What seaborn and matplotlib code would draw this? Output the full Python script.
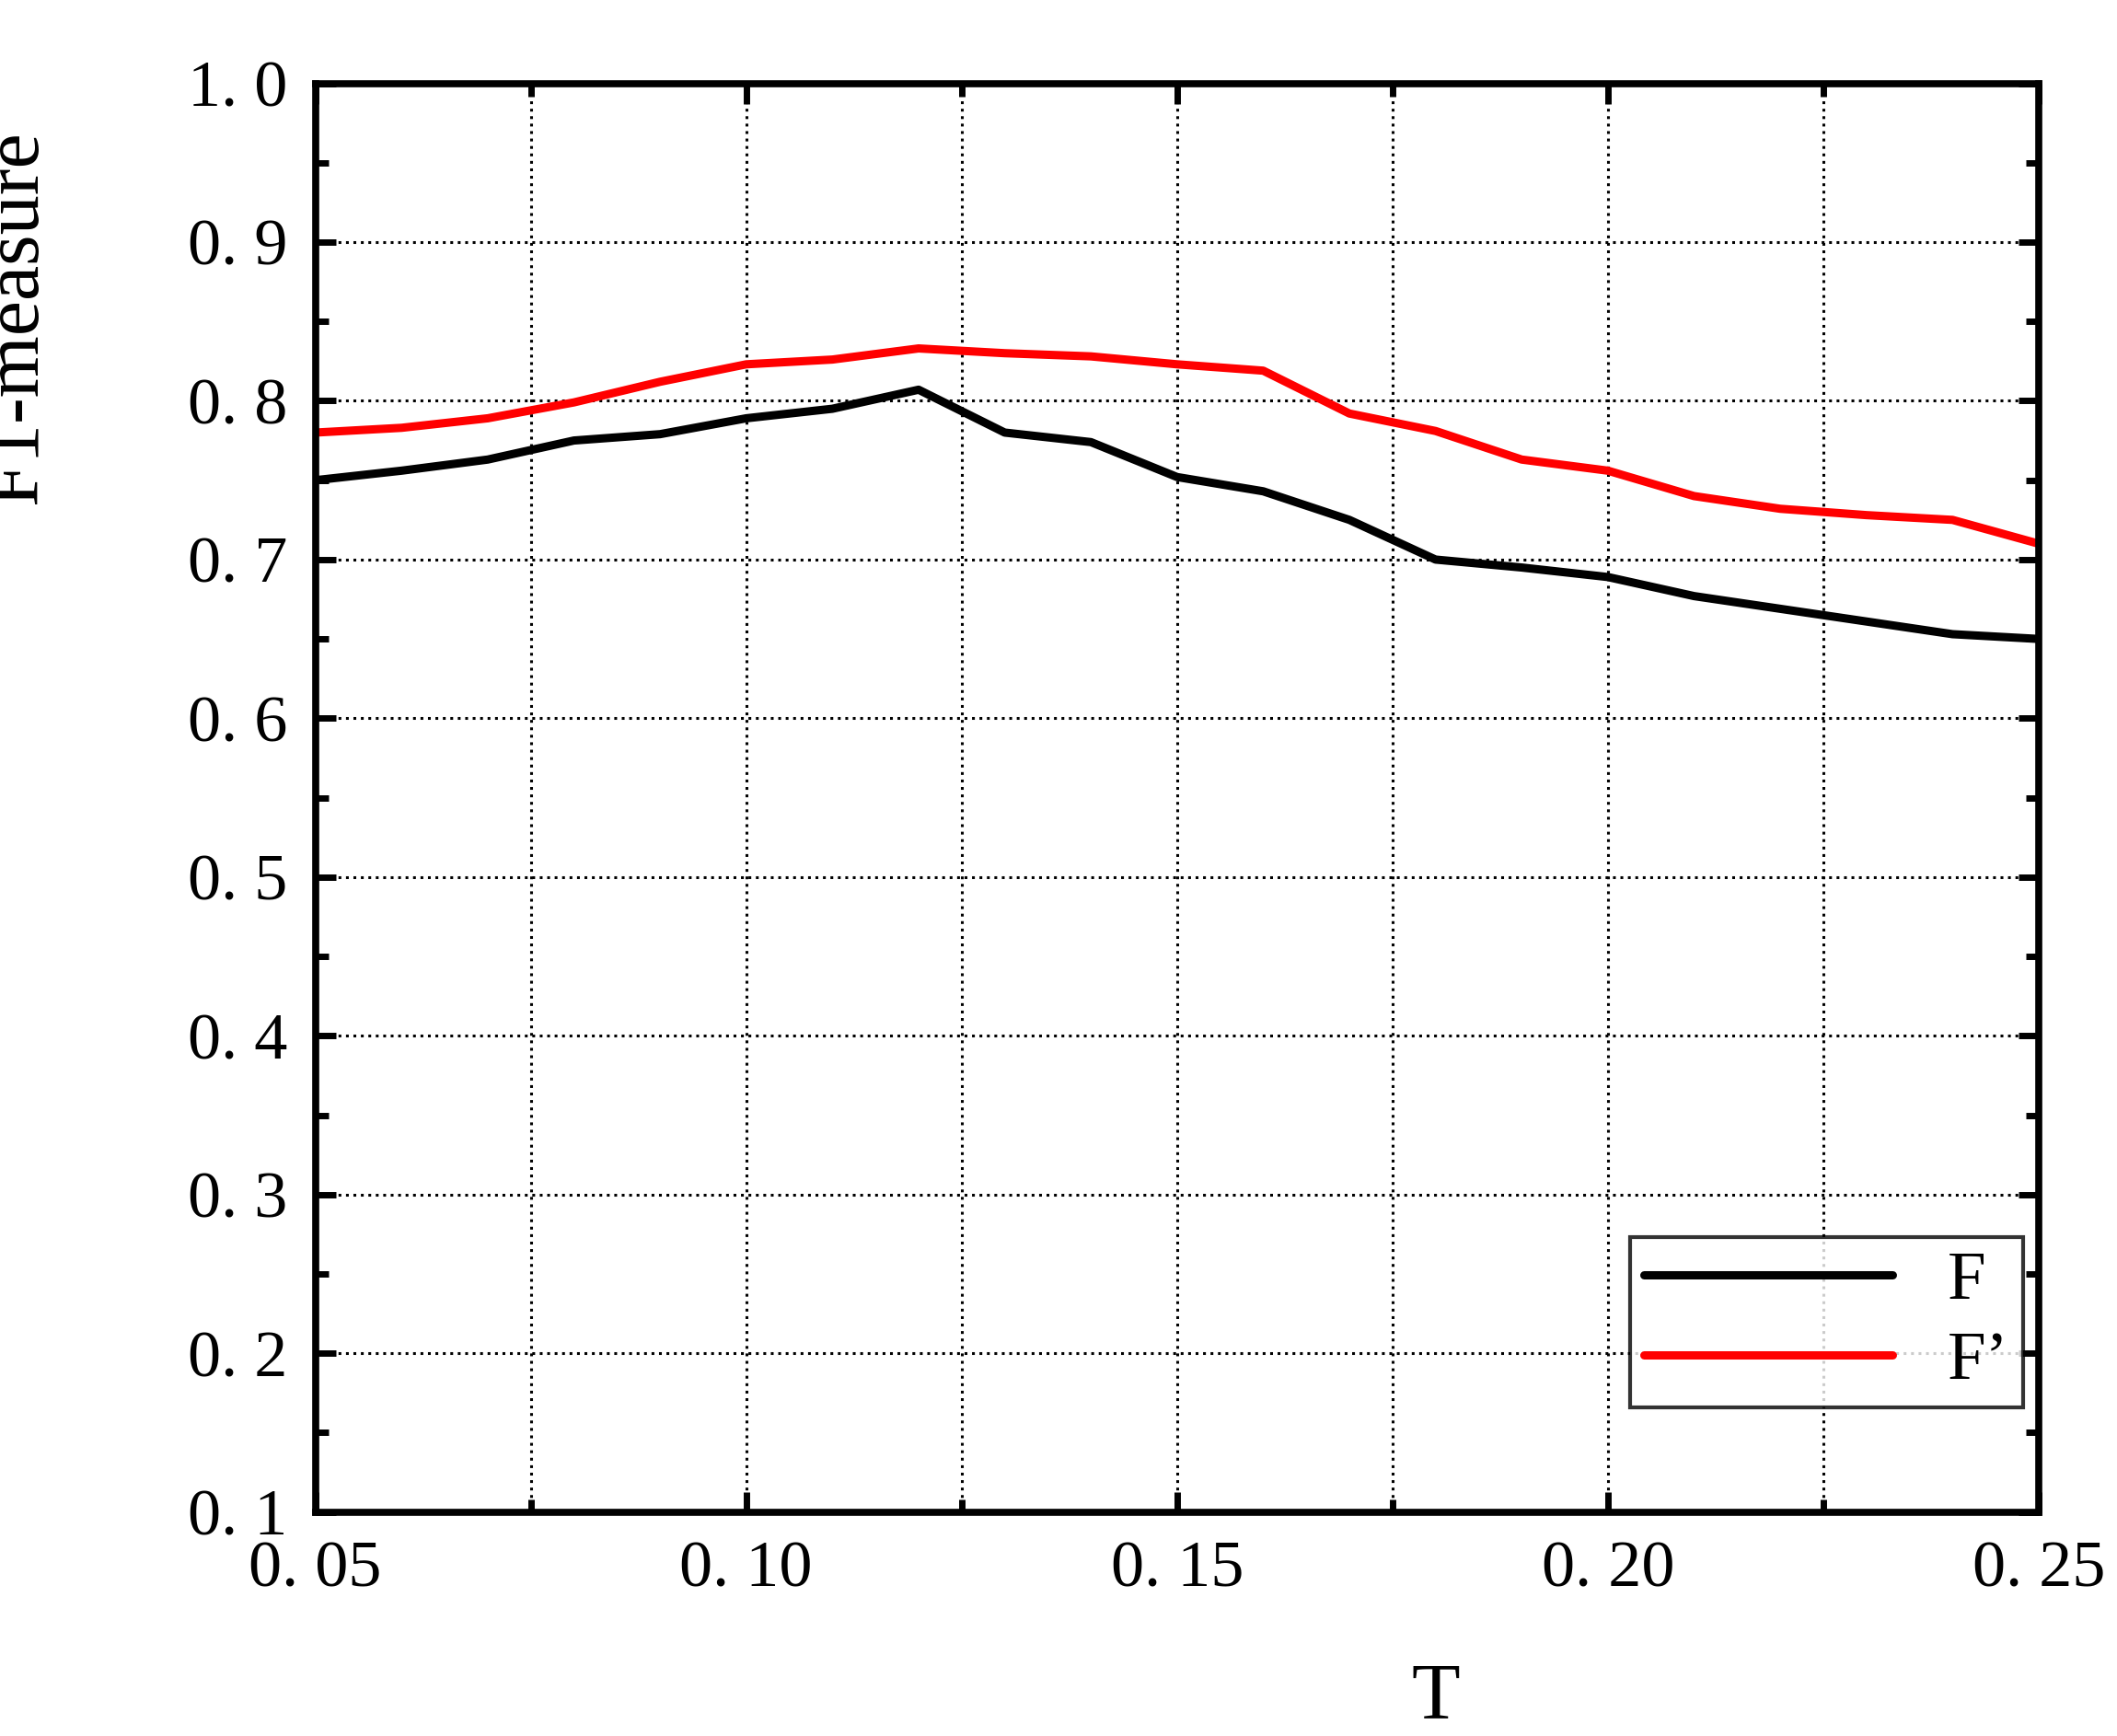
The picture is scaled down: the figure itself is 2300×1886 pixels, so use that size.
import numpy as np
import pandas as pd
import matplotlib
matplotlib.use('Agg')
import matplotlib.pyplot as plt
import seaborn as sns
from matplotlib.ticker import MultipleLocator

# ── data ──
t_vals = [0.05, 0.06, 0.07, 0.08, 0.09, 0.10, 0.11, 0.12, 0.13, 0.14, 0.15,
          0.16, 0.17, 0.18, 0.19, 0.20, 0.21, 0.22, 0.23, 0.24, 0.25]
f_vals = [0.750, 0.756, 0.763, 0.775, 0.779, 0.789, 0.795, 0.807, 0.780, 0.774, 0.752,
          0.743, 0.725, 0.700, 0.695, 0.689, 0.677, 0.669, 0.661, 0.653, 0.650]
f2_vals = [0.780, 0.783, 0.789, 0.799, 0.812, 0.823, 0.826, 0.833, 0.830, 0.828, 0.823,
           0.819, 0.792, 0.781, 0.763, 0.756, 0.740, 0.732, 0.728, 0.725, 0.710]

df = pd.DataFrame({'T': t_vals * 2,
                   'val': f_vals + f2_vals,
                   'series': ['F'] * len(t_vals) + ['F\u2019'] * len(t_vals)})

sns.set_style('white')
plt.rcParams['font.family'] = ['Liberation Serif', 'DejaVu Serif']
plt.rcParams['text.color'] = 'black'
plt.rcParams['axes.labelcolor'] = 'black'
plt.rcParams['xtick.color'] = 'black'
plt.rcParams['ytick.color'] = 'black'

fig = plt.figure(figsize=(23, 18.86), dpi=100)
ax = fig.add_axes([0.149, 0.129, 0.814, 0.823])

sns.lineplot(data=df, x='T', y='val', hue='series',
             palette={'F': 'black', 'F\u2019': '#ff0000'},
             linewidth=6.5, ax=ax)

ax.set_xlim(0.05, 0.25)
ax.set_ylim(0.1, 1.0)
ax.xaxis.set_major_locator(MultipleLocator(0.05))
ax.xaxis.set_minor_locator(MultipleLocator(0.025))
ax.yaxis.set_major_locator(MultipleLocator(0.1))
ax.yaxis.set_minor_locator(MultipleLocator(0.05))
ax.set_xticklabels([f'{v:.2f}'.replace('.', '. ') for v in ax.get_xticks()])
ax.set_yticklabels([f'{v:.1f}'.replace('.', '. ') for v in ax.get_yticks()])

ax.grid(True, which='major', axis='y', color='black', linestyle=':', linewidth=2.2)
ax.grid(True, which='both', axis='x', color='black', linestyle=':', linewidth=2.2)

ax.tick_params(which='major', direction='in', length=16, width=5,
               bottom=True, left=True, top=True, right=True,
               labelsize=52, pad=22)
ax.tick_params(which='minor', direction='in', length=10, width=5,
               bottom=True, left=True, top=True, right=True)
for s in ax.spines.values():
    s.set_linewidth(5.5)
    s.set_color('black')

ax.set_xlabel('T', fontsize=62)
ax.set_ylabel('F1-measure', fontsize=62)
ax.xaxis.set_label_coords(0.65, -0.105)
ax.yaxis.set_label_coords(-0.152, 0.836)

leg = ax.legend(loc='lower right', fontsize=54, frameon=True, fancybox=False,
                edgecolor='black', handlelength=3.6, bbox_to_anchor=(0.991, 0.073),
                borderpad=0.2, labelspacing=0.25, borderaxespad=0)
leg.get_frame().set_linewidth(3)
for line in leg.get_lines():
    line.set_linewidth(6.5)

fig.savefig('out.png', dpi=100)
